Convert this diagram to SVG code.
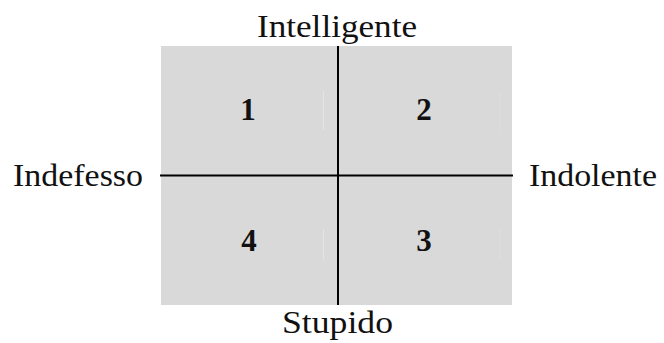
<svg xmlns="http://www.w3.org/2000/svg" width="664" height="343" viewBox="0 0 664 343">
<style>
.lbl{font-family:"Liberation Serif","Times New Roman",serif;font-size:31px;fill:#111}
.num{font-family:"Liberation Serif","Times New Roman",serif;font-size:31px;font-weight:bold;fill:#111;text-anchor:middle}
.ax{stroke:#000;stroke-width:2;fill:none}
.faint{stroke:#e4e4e4;stroke-width:1.2}
</style>
<rect width="664" height="343" fill="#fff"/>
<g id="grid">
<rect x="161" y="46" width="351" height="259" fill="#d9d9d9"/>
<line class="faint" x1="323.5" y1="91" x2="323.5" y2="130"/>
<line class="faint" x1="323.5" y1="229" x2="323.5" y2="260"/>
<line class="faint" x1="500" y1="91" x2="500" y2="130" stroke-opacity="0.5"/>
<line class="faint" x1="500" y1="229" x2="500" y2="260" stroke-opacity="0.5"/>
</g>
<g id="q1"><text class="num" x="248" y="120">1</text></g>
<g id="q2"><text class="num" x="424" y="120">2</text></g>
<g id="q3"><text class="num" x="424" y="251">3</text></g>
<g id="q4"><text class="num" x="249" y="251">4</text></g>
<g id="connectors">
<line class="ax" x1="338" y1="46" x2="338" y2="305"/>
<line class="ax" x1="160" y1="175.5" x2="513" y2="175.5"/>
</g>
<g id="top"><text class="lbl" x="257" y="37" textLength="160" lengthAdjust="spacingAndGlyphs">Intelligente</text></g>
<g id="left"><text class="lbl" x="13" y="186" textLength="130" lengthAdjust="spacingAndGlyphs">Indefesso</text></g>
<g id="right"><text class="lbl" x="529" y="186" textLength="128" lengthAdjust="spacingAndGlyphs">Indolente</text></g>
<g id="bottom"><text class="lbl" x="282" y="333" textLength="111" lengthAdjust="spacingAndGlyphs">Stupido</text></g>
</svg>
